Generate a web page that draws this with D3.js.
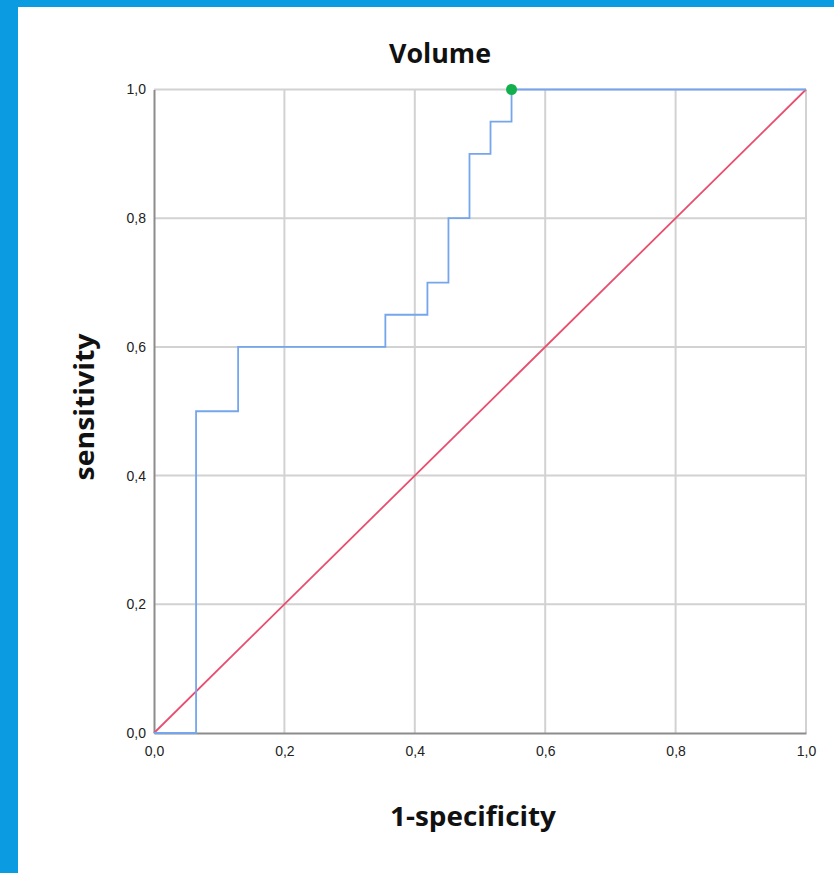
<!DOCTYPE html>
<html>
<head>
<meta charset="utf-8">
<script src="https://cdn.jsdelivr.net/npm/d3@7"></script>
<style>
  body { margin: 0; background: #fff; }
  svg { display: block; }
</style>
</head>
<body>
<div id="chart"></div>
<script>
// ROC curve values (31 negatives, 20 positives)
var fpr = [0, 2/31, 2/31, 4/31, 4/31, 11/31, 11/31, 13/31, 13/31, 14/31, 14/31, 15/31, 15/31, 16/31, 16/31, 17/31, 17/31, 1];
var tpr = [0, 0, 0.5, 0.5, 0.6, 0.6, 0.65, 0.65, 0.7, 0.7, 0.8, 0.8, 0.9, 0.9, 0.95, 0.95, 1, 1];
var cutPoint = [17/31, 1];
var tickValues = [0, 0.2, 0.4, 0.6, 0.8, 1];

var svgWidth = 834;
var svgHeight = 873;

var plot = { left: 154, right: 806, top: 89.5, bottom: 733 };

var svg = d3.select("#chart")
    .append("svg")
    .attr("width", svgWidth)
    .attr("height", svgHeight);

// blue frame on the left and top
svg.append("rect").attr("x", 0).attr("y", 0).attr("width", svgWidth).attr("height", 7).attr("fill", "#0a9be0");
svg.append("rect").attr("x", 0).attr("y", 0).attr("width", 18).attr("height", svgHeight).attr("fill", "#0a9be0");

var x = d3.scaleLinear().domain([0, 1]).range([plot.left, plot.right]);
var y = d3.scaleLinear().domain([0, 1]).range([plot.bottom, plot.top]);

var comma = d3.formatLocale({ decimal: ",", thousands: ".", grouping: [3], currency: ["", ""] }).format(".1f");

// grid
var grid = svg.append("g");
grid.selectAll(".vg")
    .data(tickValues.slice(1))
    .enter()
    .append("line")
    .attr("x1", d => x(d)).attr("x2", d => x(d))
    .attr("y1", plot.top).attr("y2", plot.bottom)
    .attr("stroke", "#d2d2d2").attr("stroke-width", 2);
grid.selectAll(".hg")
    .data(tickValues.slice(1))
    .enter()
    .append("line")
    .attr("x1", plot.left).attr("x2", plot.right)
    .attr("y1", d => y(d)).attr("y2", d => y(d))
    .attr("stroke", "#d2d2d2").attr("stroke-width", 2);

// axes
var xAxis = d3.axisBottom(x).tickValues(tickValues).tickFormat(comma).tickSize(0).tickPadding(13);
var yAxis = d3.axisLeft(y).tickValues(tickValues).tickFormat(comma).tickSize(0).tickPadding(8);

var gx = svg.append("g").attr("transform", `translate(0,${plot.bottom})`).call(xAxis);
var gy = svg.append("g").attr("transform", `translate(${plot.left},0)`).call(yAxis);

[gx, gy].forEach(function(g) {
    g.select(".domain").attr("stroke", "#8c8c8c").attr("stroke-width", 2);
    g.selectAll("text")
        .attr("fill", "#222")
        .style("font-family", "Liberation Sans, Arial, sans-serif")
        .style("font-size", "14px");
});

// reference diagonal
svg.append("line")
    .attr("x1", x(0)).attr("y1", y(0))
    .attr("x2", x(1)).attr("y2", y(1))
    .attr("stroke", "#e84f6f").attr("stroke-width", 1.8);

// ROC step line
var pts = fpr.map((d, i) => [d, tpr[i]]);
var line = d3.line().x(d => x(d[0])).y(d => y(d[1]));
svg.append("path")
    .datum(pts)
    .attr("d", line)
    .attr("fill", "none")
    .attr("stroke", "#75a6ec")
    .attr("stroke-width", 1.8);

// optimal cut point
svg.append("circle")
    .attr("cx", x(cutPoint[0])).attr("cy", y(cutPoint[1]))
    .attr("r", 5.5)
    .attr("fill", "#12b04c");

// labels
var labelFont = "'Open Sans', Lato, sans-serif";
svg.append("text")
    .attr("x", 440).attr("y", 63)
    .attr("text-anchor", "middle")
    .attr("textLength", 102).attr("lengthAdjust", "spacingAndGlyphs")
    .style("font-family", labelFont).style("font-weight", "bold").style("font-size", "26px")
    .attr("fill", "#111")
    .text("Volume");

svg.append("text")
    .attr("x", 473).attr("y", 826)
    .attr("text-anchor", "middle")
    .attr("textLength", 166).attr("lengthAdjust", "spacingAndGlyphs")
    .style("font-family", labelFont).style("font-weight", "bold").style("font-size", "26px")
    .attr("fill", "#111")
    .text("1-specificity");

svg.append("text")
    .attr("transform", "translate(94,407) rotate(-90)")
    .attr("text-anchor", "middle")
    .attr("textLength", 147).attr("lengthAdjust", "spacingAndGlyphs")
    .style("font-family", labelFont).style("font-weight", "bold").style("font-size", "26px")
    .attr("fill", "#111")
    .text("sensitivity");
</script>
</body>
</html>
